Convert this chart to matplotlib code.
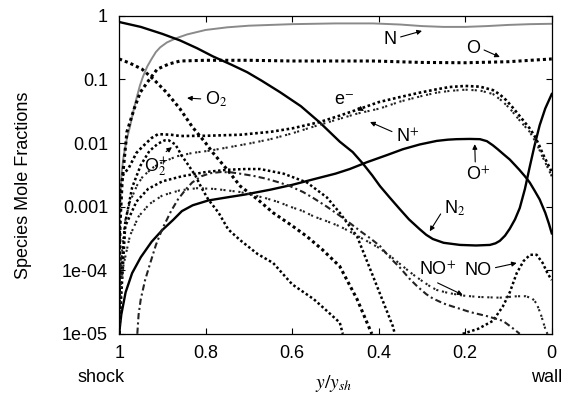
import numpy as np
import matplotlib
matplotlib.use("Agg")
import matplotlib.pyplot as plt

plt.rcParams["font.family"] = ["Liberation Sans", "DejaVu Sans"]
plt.rcParams["mathtext.fontset"] = "stix"

# species mole fractions across the shock layer, x = y/y_sh (1 = shock, 0 = wall)
n2_x = [1.0, 0.95, 0.9, 0.859, 0.82, 0.783, 0.74, 0.704, 0.67, 0.628, 0.58, 0.536, 0.49,
        0.46, 0.436, 0.415, 0.397, 0.375, 0.351, 0.33, 0.305, 0.29, 0.275, 0.25, 0.212,
        0.175, 0.143, 0.13, 0.12, 0.108, 0.097, 0.085, 0.074, 0.062, 0.051, 0.04, 0.028,
        0.015, 0.0]
n2_y = [0.80, 0.67, 0.52, 0.41, 0.31, 0.23, 0.17, 0.13, 0.095, 0.063, 0.038, 0.021, 0.0105,
        0.0072, 0.0047, 0.0031, 0.0021, 0.0014, 9.1e-4, 6.3e-4, 4.4e-4, 3.6e-4, 3.1e-4,
        2.7e-4, 2.5e-4, 2.45e-4, 2.5e-4, 2.65e-4, 2.9e-4, 3.5e-4, 4.5e-4, 6.3e-4, 9.5e-4,
        1.9e-3, 4.2e-3, 9e-3, 0.019, 0.035, 0.059]

n_x = [1.0, 0.999, 0.998, 0.994, 0.99, 0.983, 0.975, 0.967, 0.96, 0.952, 0.945, 0.935,
       0.925, 0.915, 0.905, 0.89, 0.87, 0.843, 0.8, 0.75, 0.7, 0.6, 0.5, 0.413, 0.35, 0.3,
       0.25, 0.2, 0.15, 0.1, 0.05, 0.0]
n_y = [1e-5, 3e-4, 1.3e-3, 3.5e-3, 6e-3, 0.011, 0.018, 0.032, 0.05, 0.08, 0.11, 0.16, 0.21,
       0.27, 0.32, 0.38, 0.44, 0.51, 0.6, 0.66, 0.7, 0.74, 0.76, 0.76, 0.73, 0.69, 0.67,
       0.67, 0.69, 0.72, 0.74, 0.75]

o_x = [1.0, 0.998, 0.993, 0.982, 0.965, 0.951, 0.93, 0.912, 0.885, 0.859, 0.8, 0.7, 0.6,
       0.5, 0.413, 0.3, 0.2, 0.1, 0.0]
o_y = [1e-5, 5e-4, 2.5e-3, 0.015, 0.035, 0.063, 0.1, 0.145, 0.175, 0.195, 0.2, 0.2, 0.195,
       0.195, 0.195, 0.185, 0.183, 0.19, 0.21]

o2_x = [1.0, 0.975, 0.947, 0.92, 0.891, 0.86, 0.831, 0.8, 0.783, 0.75, 0.72, 0.68, 0.644,
        0.6, 0.566, 0.53, 0.49, 0.45, 0.416]
o2_y = [0.21, 0.18, 0.145, 0.1, 0.063, 0.035, 0.018, 0.01, 0.007, 0.0038, 0.0021, 0.0013,
        8e-4, 5e-4, 3.4e-4, 2.1e-4, 1.15e-4, 3.5e-5, 1e-5]

e_x = [1.0, 0.998, 0.99, 0.979, 0.96, 0.945, 0.925, 0.91, 0.88, 0.859, 0.8, 0.72, 0.65,
       0.6, 0.536, 0.49, 0.436, 0.4, 0.35, 0.305, 0.266, 0.236, 0.2, 0.166, 0.136, 0.12,
       0.105, 0.09, 0.075, 0.062, 0.051, 0.04, 0.03, 0.021, 0.01, 0.0]
e_y = [1e-5, 1.9e-3, 3.3e-3, 3.9e-3, 7e-3, 8.9e-3, 0.012, 0.0138, 0.0135, 0.0129, 0.013,
       0.0135, 0.015, 0.017, 0.0214, 0.027, 0.036, 0.044, 0.053, 0.062, 0.07, 0.076, 0.079,
       0.077, 0.068, 0.058, 0.047, 0.036, 0.027, 0.021, 0.017, 0.013, 0.0095, 0.0068,
       0.0048, 0.0035]

np_x = [1.0, 0.995, 0.986, 0.975, 0.958, 0.945, 0.92, 0.9, 0.866, 0.83, 0.79, 0.75, 0.7,
        0.65, 0.6, 0.552, 0.5, 0.45, 0.397, 0.35, 0.3, 0.266, 0.236, 0.2, 0.166, 0.136,
        0.115, 0.097, 0.075, 0.051, 0.035, 0.021, 0.01, 0.0]
np_y = [1e-5, 1.5e-4, 6e-4, 1.2e-3, 2.2e-3, 3e-3, 4.2e-3, 5e-3, 6.2e-3, 7e-3, 7.6e-3, 8.5e-3,
        9.8e-3, 0.0115, 0.0142, 0.018, 0.023, 0.029, 0.035, 0.045, 0.055, 0.062, 0.066,
        0.069, 0.067, 0.059, 0.046, 0.035, 0.023, 0.015, 0.0098, 0.006, 0.0042, 0.003]

op_x = [1.0, 0.995, 0.985, 0.97, 0.95, 0.925, 0.9, 0.875, 0.855, 0.83, 0.794, 0.75, 0.709,
        0.65, 0.6, 0.55, 0.5, 0.467, 0.427, 0.38, 0.344, 0.305, 0.266, 0.24, 0.22, 0.19,
        0.166, 0.15, 0.136, 0.125, 0.113, 0.097, 0.085, 0.075, 0.062, 0.051, 0.04, 0.028,
        0.015, 0.007, 0.0]
op_y = [1e-5, 2e-5, 4.5e-5, 9e-5, 1.6e-4, 2.8e-4, 4.3e-4, 6.2e-4, 8.5e-4, 1.05e-3, 1.25e-3,
        1.4e-3, 1.55e-3, 1.85e-3, 2.2e-3, 2.7e-3, 3.3e-3, 3.9e-3, 5e-3, 6.5e-3, 8e-3, 9.5e-3,
        0.0108, 0.0113, 0.0115, 0.0116, 0.0115, 0.0107, 0.0092, 0.008, 0.0068, 0.0055,
        0.0045, 0.0038, 0.003, 0.0024, 0.0018, 0.0013, 8e-4, 5.5e-4, 3.8e-4]

o2p_x = [1.0, 0.995, 0.985, 0.97, 0.95, 0.93, 0.91, 0.895, 0.885, 0.87, 0.855, 0.84, 0.824,
         0.81, 0.794, 0.77, 0.748, 0.721, 0.68, 0.644, 0.6, 0.55, 0.52, 0.49, 0.483]
o2p_y = [1e-5, 1e-4, 6e-4, 2e-3, 4.5e-3, 7.5e-3, 9.8e-3, 0.011, 0.011, 9.5e-3, 6.3e-3,
         4.5e-3, 3.1e-3, 2e-3, 1.3e-3, 8e-4, 4.4e-4, 3e-4, 1.8e-4, 1.3e-4, 6e-5, 3.5e-5,
         2.3e-5, 1.5e-5, 1e-5]

# NO drops out below 1e-5 in the middle of the layer and comes back near the wall
no_x = [1.0, 0.986, 0.96, 0.933, 0.9, 0.855, 0.8, 0.75, 0.709, 0.674, 0.62, 0.566, 0.52,
        0.49, 0.45, 0.413, 0.367, 0.363, np.nan, 0.206, 0.17, 0.136, 0.113, 0.097, 0.081,
        0.065, 0.05, 0.035, 0.021, 0.01, 0.0]
no_y = [1e-5, 4.9e-4, 1.2e-3, 1.9e-3, 2.5e-3, 3e-3, 3.5e-3, 3.8e-3, 3.9e-3, 3.9e-3, 3.3e-3,
        2.4e-3, 1.4e-3, 8e-4, 3.4e-4, 8e-5, 1.3e-5, 1e-5, np.nan, 1e-5, 1.2e-5, 1.6e-5,
        2.7e-5, 4.5e-5, 9e-5, 1.4e-4, 1.75e-4, 1.75e-4, 1.3e-4, 9e-5, 7e-5]

nop_x = [1.0, 0.997, 0.99, 0.975, 0.955, 0.93, 0.9, 0.86, 0.82, 0.78, 0.75, 0.721, 0.69,
         0.66, 0.63, 0.605, 0.575, 0.55, 0.52, 0.49, 0.465, 0.44, 0.42, 0.397, 0.37, 0.344,
         0.32, 0.3, 0.28, 0.266, 0.24, 0.206, 0.17, 0.12, 0.08, 0.06, 0.045, 0.035, 0.025,
         0.015, 0.01]
nop_y = [1e-5, 5e-5, 1.2e-4, 3.5e-4, 7e-4, 1.1e-3, 1.5e-3, 1.8e-3, 1.95e-3, 1.9e-3, 1.8e-3,
         1.7e-3, 1.52e-3, 1.35e-3, 1.17e-3, 1e-3, 8.5e-4, 7e-4, 5.9e-4, 4.9e-4, 4e-4, 3.2e-4,
         2.7e-4, 2.2e-4, 1.6e-4, 1.15e-4, 8.5e-5, 6.8e-5, 5.5e-5, 4.9e-5, 4.4e-5, 4e-5,
         3.8e-5, 3.7e-5, 3.9e-5, 3.9e-5, 3.6e-5, 3e-5, 2e-5, 1.2e-5, 1e-5]

n2p_x = [0.958, 0.955, 0.95, 0.94, 0.928, 0.915, 0.9, 0.88, 0.864, 0.845, 0.831, 0.81, 0.79,
         0.765, 0.74, 0.721, 0.69, 0.66, 0.63, 0.605, 0.575, 0.55, 0.52, 0.49, 0.465, 0.44,
         0.42, 0.397, 0.375, 0.351, 0.33, 0.31, 0.29, 0.275, 0.25, 0.23, 0.21, 0.189, 0.15,
         0.113, 0.095, 0.085, 0.074]
n2p_y = [1e-5, 2e-5, 3.5e-5, 7e-5, 1.3e-4, 2.5e-4, 4.5e-4, 8.5e-4, 1.3e-3, 1.9e-3, 2.4e-3,
         3e-3, 3.35e-3, 3.5e-3, 3.45e-3, 3.3e-3, 3.05e-3, 2.75e-3, 2.4e-3, 2.1e-3, 1.7e-3,
         1.35e-3, 1e-3, 7.2e-4, 5.4e-4, 4e-4, 3.2e-4, 2.4e-4, 1.6e-4, 1.1e-4, 7.5e-5, 5.5e-5,
         4.2e-5, 3.6e-5, 3e-5, 2.7e-5, 2.45e-5, 2.2e-5, 1.9e-5, 1.6e-5, 1.3e-5, 1.15e-5, 1e-5]

y_ticks = [1, 0.1, 0.01, 0.001, 1e-4, 1e-5]
y_labels = ["1", "0.1", "0.01", "0.001", "1e-04", "1e-05"]
x_ticks = [1, 0.8, 0.6, 0.4, 0.2, 0]
x_labels = ["1", "0.8", "0.6", "0.4", "0.2", "0"]

fig = plt.figure(figsize=(5.7, 3.96), dpi=100)
ax = fig.add_axes([0.209, 0.157, 0.759, 0.803])

ax.plot(n_x, n_y, color="#8a8a8a", lw=1.4)
ax.plot(n2_x, n2_y, color="black", lw=1.7)
ax.plot(op_x, op_y, color="black", lw=1.7)
ax.plot(o_x, o_y, color="black", lw=2.2, linestyle=(0, (1, 1)))
ax.plot(o2_x, o2_y, color="black", lw=2.2, linestyle=(0, (1, 1)))
ax.plot(e_x, e_y, color="black", lw=1.9, linestyle=(0, (1, 1)))
ax.plot(np_x, np_y, color="#222222", lw=1.5, linestyle=(0, (1, 0.6, 1, 1.8)))
ax.plot(o2p_x, o2p_y, color="black", lw=1.8, linestyle=(0, (1, 1)))
ax.plot(no_x, no_y, color="black", lw=1.8, linestyle=(0, (1, 1)))
ax.plot(nop_x, nop_y, color="#222222", lw=1.5, linestyle=(0, (1, 0.6, 1, 1.8)))
ax.plot(n2p_x, n2p_y, color="#222222", lw=1.5, linestyle=(0, (3, 1.5, 1, 1.5)))

ax.set_yscale("log")
ax.set_xlim(1, 0)
ax.set_ylim(1e-5, 1)
ax.set_yticks(y_ticks)
ax.set_yticklabels(y_labels)
ax.set_xticks(x_ticks)
ax.set_xticklabels(x_labels)
ax.minorticks_off()
ax.tick_params(direction="in", length=4, width=0.8, top=True, right=True,
               labelsize=13, pad=8)
for s in ax.spines.values():
    s.set_linewidth(0.9)

fig.text(24 / 570, 1 - 185 / 396, "Species Mole Fractions", rotation=90,
         ha="center", va="center", fontsize=13)
fig.text(101 / 570, 1 - 378 / 396, "shock", ha="center", va="center", fontsize=13)
fig.text(547 / 570, 1 - 378 / 396, "wall", ha="center", va="center", fontsize=13)
fig.text(334 / 570, 1 - 384 / 396, r"$y/y_{sh}$", ha="center", va="center", fontsize=14)

arrow = dict(arrowstyle="-|>", color="black", lw=0.8, mutation_scale=7,
             shrinkA=1, shrinkB=0)
fs = 13
ax.annotate("N", xy=(0.30, 0.58), xytext=(0.374, 0.42), ha="center", va="center",
            fontsize=fs, arrowprops=dict(arrow, relpos=(1, 0.6)))
ax.annotate("O", xy=(0.12, 0.225), xytext=(0.182, 0.31), ha="center", va="center",
            fontsize=fs, arrowprops=dict(arrow, relpos=(1, 0.5)))
ax.annotate("O$_2$", xy=(0.843, 0.051), xytext=(0.776, 0.049), ha="center", va="center",
            fontsize=fs, arrowprops=dict(arrow, relpos=(0, 0.5)))
ax.annotate("e$^{-}$", xy=(0.434, 0.032), xytext=(0.48, 0.047), ha="center", va="center",
            fontsize=fs, arrowprops=dict(arrow, relpos=(1, 0.2)))
ax.annotate("N$^{+}$", xy=(0.42, 0.0214), xytext=(0.333, 0.0124), ha="center", va="center",
            fontsize=fs, arrowprops=dict(arrow, relpos=(0, 0.7)))
ax.annotate("O$^{+}$", xy=(0.178, 0.0096), xytext=(0.171, 0.0031), ha="center", va="center",
            fontsize=fs, arrowprops=dict(arrow, relpos=(0.4, 1)))
ax.annotate("N$_2$", xy=(0.282, 4.1e-4), xytext=(0.224, 9.4e-4), ha="center", va="center",
            fontsize=fs, arrowprops=dict(arrow, relpos=(0, 0.5)))
ax.annotate("O$_2^{+}$", xy=(0.878, 8.6e-3), xytext=(0.915, 4.2e-3), ha="center",
            va="center", fontsize=fs, arrowprops=dict(arrow, relpos=(0.6, 0.9)))
ax.annotate("NO$^{+}$", xy=(0.206, 4.1e-5), xytext=(0.263, 1.0e-4), ha="center",
            va="center", fontsize=fs, arrowprops=dict(arrow, relpos=(0.3, 0)))
ax.annotate("NO", xy=(0.081, 1.3e-4), xytext=(0.171, 1.0e-4), ha="center", va="center",
            fontsize=fs, arrowprops=dict(arrow, relpos=(1, 0.6)))

fig.savefig("out.png", dpi=100)
